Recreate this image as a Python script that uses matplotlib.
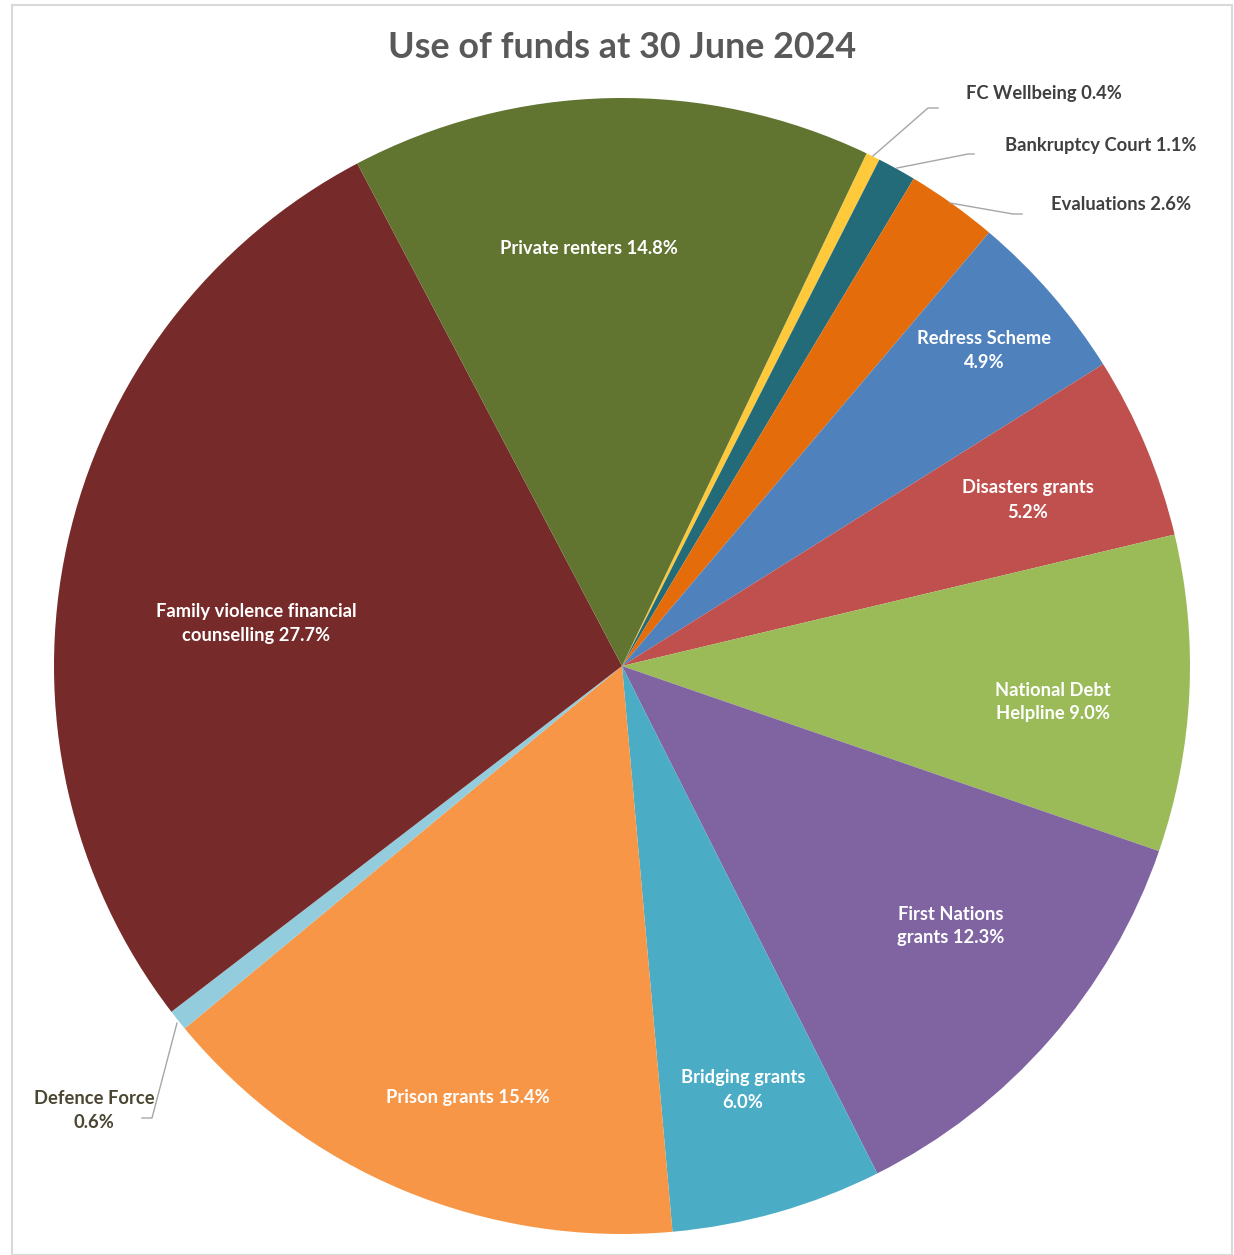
import matplotlib
matplotlib.use("Agg")
import matplotlib.pyplot as plt
from matplotlib.patches import Rectangle

plt.rcParams['font.family'] = ['Lato', 'DejaVu Sans']
plt.rcParams['hatch.linewidth'] = 1.6

# ---- data (clockwise from the top-right) ----
categories = ["FC Wellbeing", "Bankruptcy Court", "Evaluations", "Redress Scheme",
              "Disasters grants", "National Debt Helpline", "First Nations grants",
              "Bridging grants", "Prison grants", "Defence Force",
              "Family violence financial counselling", "Private renters"]
values = [0.4, 1.1, 2.6, 4.9, 5.2, 9.0, 12.3, 6.0, 15.4, 0.6, 27.7, 14.8]
colors = ["#FFC93C", "#246B79", "#E46C0A", "#4F81BD", "#C0504D", "#9BBB59",
          "#8064A2", "#4BACC6", "#F79646", "#93CDDD", "#772A2A", "#617430"]
label_texts = ["FC Wellbeing 0.4%", "Bankruptcy Court 1.1%", "Evaluations 2.6%",
               "Redress Scheme\n4.9%", "Disasters grants\n5.2%",
               "National Debt\nHelpline 9.0%", "First Nations\ngrants 12.3%",
               "Bridging grants\n6.0%", "Prison grants 15.4%", "Defence Force\n0.6%",
               "Family violence financial\ncounselling 27.7%", "Private renters 14.8%"]

W, H = 1234, 1255
fig = plt.figure(figsize=(W / 100, H / 100), dpi=100)
fig.patch.set_facecolor('white')
ax = fig.add_axes([0, 0, 1, 1])

def py(y):
    return H - y

# background panel with diagonal stripes
bg = Rectangle((12, py(1255)), 1220, 1250, facecolor='#ebebeb', edgecolor='white',
               linewidth=0, hatch='\\\\\\\\\\\\\\\\\\\\\\\\\\\\', zorder=0)
ax.add_patch(bg)
border = Rectangle((12, py(1255)), 1220, 1250, facecolor='none', edgecolor='#d9d9d9',
                   linewidth=1.5, zorder=0.5)
ax.add_patch(border)

cx, cy, R = 622, py(666), 568
wedges, _ = ax.pie(values, colors=colors, startangle=90 - 25.5, counterclock=False,
                   center=(cx, cy), radius=R, wedgeprops=dict(linewidth=0))
for w in wedges:
    w.set_zorder(2)

ax.set_xlim(0, W)
ax.set_ylim(0, H)
ax.set_aspect('auto')
ax.axis('off')

# label positions (pixel centres)
label_pos = {
    0: (1044, 93), 1: (1101, 145), 2: (1121, 205), 3: (984, 351),
    4: (1028, 500), 5: (1053, 702), 6: (951, 926), 7: (743, 1090),
    8: (468, 1098), 9: (94, 1110), 10: (256, 624), 11: (589, 249),
}
outside = {0: '#404040', 1: '#404040', 2: '#404040', 9: '#4a4632'}
for i, txt in enumerate(label_texts):
    x, y = label_pos[i]
    col = outside.get(i, 'white')
    ax.text(x, py(y), txt, ha='center', va='center', fontsize=13.2, fontweight='bold',
            color=col, linespacing=1.5, zorder=5)

# leader lines
leaders = [
    [(873, 156), (928, 108), (938, 108)],
    [(897, 168), (968, 154), (974, 154)],
    [(950, 203), (1013, 214), (1022, 214)],
    [(177, 1023), (152, 1118), (142, 1118)],
]
for pts in leaders:
    xs = [p[0] for p in pts]
    ys = [py(p[1]) for p in pts]
    ax.plot(xs, ys, color='#a6a6a6', linewidth=1.0, zorder=3)

ax.text(622, py(48), "Use of funds at 30 June 2024", ha='center', va='center',
        fontsize=25.8, fontweight='bold', color='#595959', zorder=5)

fig.savefig('out.png', dpi=100, facecolor='white')
